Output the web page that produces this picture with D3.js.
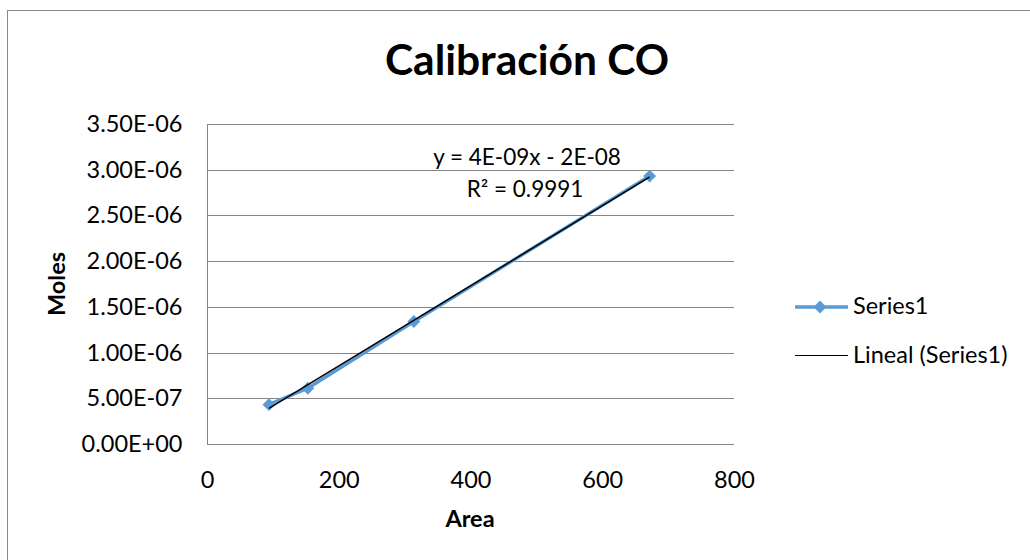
<!DOCTYPE html>
<html>
<head>
<meta charset="utf-8">
<script src="https://cdn.jsdelivr.net/npm/d3@7"></script>
<style>
  html, body { margin: 0; padding: 0; background: #fff; }
  svg { display: block; font-family: Lato, "Open Sans", sans-serif; }
</style>
</head>
<body>
<svg id="chart" width="1030" height="560"></svg>
<script>
// Calibration data: peak area vs. moles of CO
const areas = [94, 153, 314, 672];
const moles = [0.43e-6, 0.61e-6, 1.34e-6, 2.93e-6];
const xTicks = [0, 200, 400, 600, 800];
const yTicks = [0, 0.5e-6, 1.0e-6, 1.5e-6, 2.0e-6, 2.5e-6, 3.0e-6, 3.5e-6];
const seriesName = "Series1";
const trendName = "Lineal (Series1)";
const equationText = "y = 4E-09x - 2E-08";
const r2Text = "R² = 0.9991";

const svg = d3.select("#chart");
const gridColor = "#868686";
const seriesColor = "#5B9BD5";
const fontFamily = "Lato, 'Open Sans', sans-serif";

// Chart frame
svg.append("rect")
  .attr("x", 7.5).attr("y", 10.5)
  .attr("width", 1040).attr("height", 560)
  .attr("fill", "#fff").attr("stroke", "#888").attr("stroke-width", 1);

const plot = { left: 207, right: 734, top: 124, bottom: 444 };
const x = d3.scaleLinear().domain([0, 800]).range([plot.left, plot.right]);
const y = d3.scaleLinear().domain([0, 3.5e-6]).range([plot.bottom, plot.top]);

// Horizontal gridlines
svg.append("g").selectAll("line").data(yTicks.slice(1)).join("line")
  .attr("x1", plot.left).attr("x2", plot.right)
  .attr("y1", d => Math.round(y(d)) + 0.5).attr("y2", d => Math.round(y(d)) + 0.5)
  .attr("stroke", gridColor).attr("stroke-width", 1);

// Axes
const fmtY = d => d.toExponential(2).toUpperCase().replace(/E([+-])(\d)$/, "E$10$2");
const yAxis = d3.axisLeft(y).tickValues(yTicks).tickFormat(fmtY).tickSize(0).tickPadding(25);
const xAxis = d3.axisBottom(x).tickValues(xTicks).tickFormat(d3.format("d")).tickSize(0).tickPadding(43);

const gy = svg.append("g").attr("transform", `translate(${plot.left + 0.5},0)`).call(yAxis);
const gx = svg.append("g").attr("transform", `translate(0,${plot.bottom + 0.5})`).call(xAxis);
[gx, gy].forEach(g => {
  g.select(".domain").attr("stroke", gridColor).attr("stroke-width", 1);
  g.selectAll("text").attr("fill", "#000").style("font-size", "23.5px")
    .style("font-family", fontFamily);
});
gx.selectAll("text").attr("dy", "0");
gy.select(".domain").attr("d", `M0,${plot.top}V${plot.bottom}`);
gx.select(".domain").attr("d", `M${plot.left},0H${plot.right}`);

// Series line with diamond markers
const pts = areas.map((a, i) => [a, moles[i]]);
svg.append("path")
  .datum(pts)
  .attr("d", d3.line().x(d => x(d[0])).y(d => y(d[1])))
  .attr("fill", "none").attr("stroke", seriesColor).attr("stroke-width", 3.5)
  .attr("stroke-linejoin", "round");

const diamond = d3.symbol().type(d3.symbolDiamond2).size(105);
svg.append("g").selectAll("path").data(pts).join("path")
  .attr("d", diamond)
  .attr("transform", d => `translate(${x(d[0])},${y(d[1])})`)
  .attr("fill", seriesColor);

// Least-squares trendline across the data range
const mx = d3.mean(areas), my = d3.mean(moles);
const sxy = d3.sum(areas, (a, i) => (a - mx) * (moles[i] - my));
const sxx = d3.sum(areas, a => (a - mx) ** 2);
const slope = sxy / sxx, intercept = my - slope * mx;
const xMin = d3.min(areas), xMax = d3.max(areas);
svg.append("line")
  .attr("x1", x(xMin)).attr("y1", y(slope * xMin + intercept))
  .attr("x2", x(xMax)).attr("y2", y(slope * xMax + intercept))
  .attr("stroke", "#000").attr("stroke-width", 1.5);

// Equation and R² label
svg.append("text").attr("x", 527).attr("y", 165).attr("text-anchor", "middle")
  .style("font-size", "22.5px").text(equationText);
svg.append("text").attr("x", 525).attr("y", 197).attr("text-anchor", "middle")
  .style("font-size", "22.5px").text(r2Text);

// Title and axis titles
svg.append("text").attr("x", 527).attr("y", 75).attr("text-anchor", "middle")
  .style("font-size", "42.5px").style("font-weight", "bold").text("Calibración CO");
svg.append("text").attr("x", 470).attr("y", 527).attr("text-anchor", "middle")
  .style("font-size", "23.5px").style("font-weight", "bold").text("Area");
svg.append("text").attr("transform", "translate(65,284) rotate(-90)").attr("text-anchor", "middle")
  .style("font-size", "23.5px").style("font-weight", "bold").text("Moles");

// Legend
const lg = svg.append("g");
lg.append("line").attr("x1", 795).attr("x2", 848).attr("y1", 307).attr("y2", 307)
  .attr("stroke", seriesColor).attr("stroke-width", 3.5);
lg.append("path").attr("d", diamond).attr("transform", "translate(820,307)").attr("fill", seriesColor);
lg.append("text").attr("x", 853).attr("y", 314).style("font-size", "23.5px").text(seriesName);
lg.append("line").attr("x1", 795).attr("x2", 848).attr("y1", 355.5).attr("y2", 355.5)
  .attr("stroke", "#000").attr("stroke-width", 1.2);
lg.append("text").attr("x", 853).attr("y", 363).style("font-size", "23.5px").text(trendName);
</script>
</body>
</html>
